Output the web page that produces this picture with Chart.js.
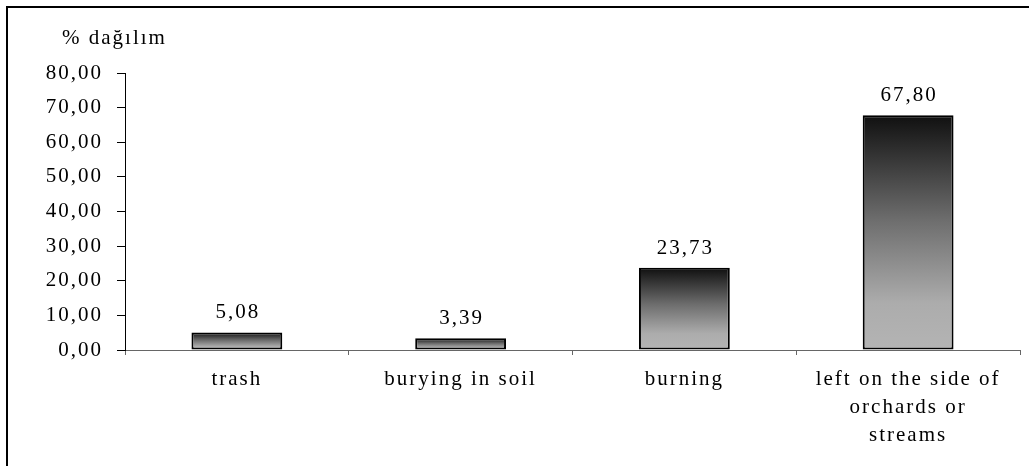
<!DOCTYPE html>
<html>
<head>
<meta charset="utf-8">
<script src="https://cdn.jsdelivr.net/npm/chart.js@4.4.1/dist/chart.umd.min.js"></script>
<style>
  html, body { margin: 0; padding: 0; background: #fff; overflow: hidden; }
  #wrap { position: relative; width: 1029px; height: 466px; overflow: hidden; }
  #frame { position: absolute; left: 6px; top: 6px; width: 1100px; height: 520px; border: 2px solid #000; box-sizing: border-box; }
  #c { position: absolute; left: 0; top: 0; }
</style>
</head>
<body>
<div id="wrap">
  <div id="frame"></div>
  <canvas id="c" width="1029" height="466"></canvas>
</div>
<script>
// Disposal methods and their share of answers (%)
const categories = ['trash', 'burying in soil', 'burning', ['left on the side of', 'orchards or', 'streams']];
const shares = [5.08, 3.39, 23.73, 67.80];
const yTicks = [0, 10, 20, 30, 40, 50, 60, 70, 80];
const unitLabel = '% dağılım';

const FONT = "'Liberation Serif', 'Times New Roman', serif";
const SIZE = 21;
const SPACING = '2px';

const fmt = v => v.toFixed(2).replace('.', ',');

// Wide tracking on every piece of text drawn on the canvas
const spacingPlugin = {
  id: 'spacing',
  beforeInit(c) { c.ctx.letterSpacing = SPACING; },
  beforeUpdate(c) { c.ctx.letterSpacing = SPACING; },
  beforeLayout(c) { c.ctx.letterSpacing = SPACING; },
  beforeDraw(c) { c.ctx.letterSpacing = SPACING; },
  resize(c) { c.ctx.letterSpacing = SPACING; }
};

// Unit caption above the value axis and value labels above bars
const labelsPlugin = {
  id: 'labels',
  afterDatasetsDraw(c) {
    const ctx = c.ctx;
    ctx.save();
    ctx.letterSpacing = SPACING;
    ctx.fillStyle = '#000';
    ctx.font = SIZE + 'px ' + FONT;
    ctx.textBaseline = 'alphabetic';
    ctx.textAlign = 'left';
    ctx.fillText(unitLabel, 62, 44);
    ctx.textAlign = 'center';
    const meta = c.getDatasetMeta(0);
    meta.data.forEach((bar, i) => {
      ctx.fillText(fmt(shares[i]), bar.x + 1, bar.y - 14);
    });
    ctx.restore();
  }
};

function barGradient(context) {
  const chart = context.chart;
  if (!chart.chartArea || !context.parsed) return '#888';
  const ys = chart.scales.y;
  const top = ys.getPixelForValue(context.parsed.y);
  const bottom = ys.getPixelForValue(0);
  const g = chart.ctx.createLinearGradient(0, top, 0, bottom);
  g.addColorStop(0, '#101010');
  g.addColorStop(0.45, '#6e6e6e');
  g.addColorStop(0.8, '#acacac');
  g.addColorStop(1, '#b4b4b4');
  return g;
}

new Chart(document.getElementById('c'), {
  type: 'bar',
  data: {
    labels: categories,
    datasets: [{
      data: shares,
      backgroundColor: barGradient,
      borderColor: '#000',
      borderWidth: 2,
      borderSkipped: false,
      barPercentage: 0.406,
      categoryPercentage: 1
    }]
  },
  plugins: [spacingPlugin, labelsPlugin],
  options: {
    responsive: false,
    animation: false,
    layout: { padding: { left: 0, top: 73, right: 9, bottom: 0 } },
    plugins: { legend: { display: false }, tooltip: { enabled: false }, title: { display: false } },
    scales: {
      x: {
        grid: { display: true, drawOnChartArea: false, tickLength: 5, color: '#666', offset: true },
        border: { display: true, color: '#666', width: 1 },
        ticks: {
          color: '#000',
          font: { family: FONT, size: SIZE, lineHeight: 1.32 },
          padding: 11,
          maxRotation: 0,
          autoSkip: false
        },
        afterFit(scale) { scale.height = 116; }
      },
      y: {
        min: 0,
        max: 80,
        afterBuildTicks(scale) { scale.ticks = yTicks.map(v => ({ value: v })); },
        grid: { display: true, drawOnChartArea: false, tickLength: 8, color: '#000' },
        border: { display: true, color: '#000', width: 1 },
        ticks: {
          color: '#000',
          font: { family: FONT, size: SIZE },
          padding: 14,
          callback: v => fmt(v)
        },
        afterFit(scale) { scale.width = 125; }
      }
    }
  }
});
</script>
</body>
</html>
